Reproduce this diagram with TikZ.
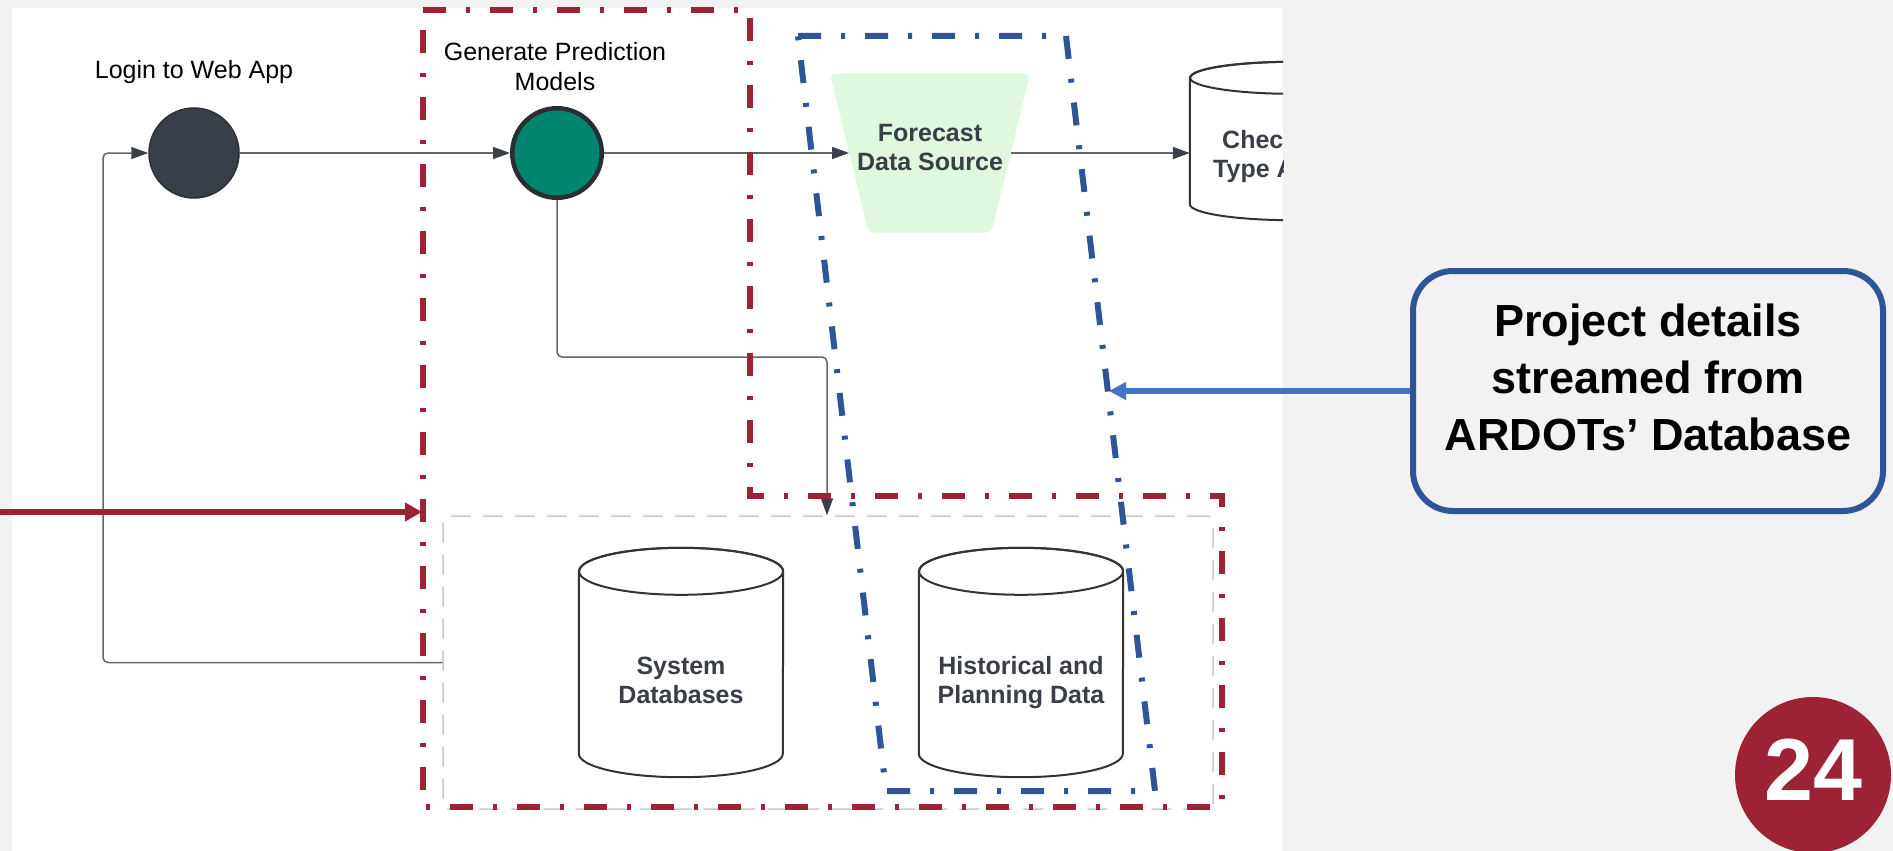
\documentclass[tikz,border=0pt]{standalone}
\usepackage{fontspec}
\setmainfont{Liberation Sans}
\usetikzlibrary{arrows.meta}

\definecolor{pagegrey}{HTML}{F2F2F2}
\definecolor{crimson}{HTML}{9E2236}
\definecolor{navyline}{HTML}{2E5597}
\definecolor{linkblue}{HTML}{4472C4}
\definecolor{slatefill}{HTML}{393F48}
\definecolor{slatering}{HTML}{2B3037}
\definecolor{tealfill}{HTML}{00866F}
\definecolor{ringdark}{HTML}{2A2E33}
\definecolor{mint}{HTML}{E0F7E0}
\definecolor{connector}{HTML}{62666D}
\definecolor{tipdark}{HTML}{3B4048}
\definecolor{textdark}{HTML}{3A3F47}
\definecolor{boxgrey}{HTML}{C9C9C9}
\definecolor{cylline}{HTML}{333333}

% database cylinder drawn on the frame of a named rectangle node
% #1 node name, #2 half-width, #3 vertical radius of the end ellipses
\newcommand\drawdbcyl[3]{%
  \draw[cylbody] ([yshift=-#3pt]#1.north west) -- ([yshift=#3pt]#1.south west)
    arc[start angle=180,end angle=360,x radius=#2pt,y radius=#3pt]
    -- ([yshift=-#3pt]#1.north east)
    arc[start angle=0,end angle=180,x radius=#2pt,y radius=#3pt] -- cycle;
  \draw[cylbody,fill=none] ([yshift=-#3pt]#1.north) ellipse[x radius=#2pt,y radius=#3pt];
}

\begin{document}
\begin{tikzpicture}[x=1pt,y=-1pt,
  conn/.style={draw=connector,line width=1.5pt,
    -{Triangle[length=17pt,width=12pt,color=tipdark]}},
  hdr/.style={font=\fontsize{25}{30}\selectfont,text=black,inner sep=0pt,align=center},
  dbtext/.style={font=\bfseries\fontsize{25}{29}\selectfont,text=textdark,inner sep=0pt,align=center},
  cylbody/.style={draw=cylline,line width=2pt,fill=white},
  cylframe/.style={minimum width=204pt,inner sep=0pt,draw=none},
  dashdot/.style={line width=6pt,dash pattern=on 23pt off 20pt on 4pt off 20pt},
  redframe/.style={dashdot,draw=crimson},
  blueframe/.style={dashdot,draw=navyline},
]
\useasboundingbox (0,0) rectangle (1893,851);

% page and canvas
\fill[pagegrey] (0,0) rectangle (1893,851);
\fill[white] (12,8) rectangle (1283,851);

% data store group
\node[draw=boxgrey,line width=1.5pt,dash pattern=on 20pt off 12pt,rounded corners=6pt,
      minimum width=770pt,minimum height=293pt,inner sep=0pt] (dbgroup) at (828,662.5) {};

% databases
\node[cylframe,minimum height=229pt] (sysdb) at (681,662.5) {};
\drawdbcyl{sysdb}{102}{23.5}
\node[dbtext] (systxt) at (681,680) {System\\Databases};

\node[cylframe,minimum height=229pt] (histdb) at (1021,662.5) {};
\drawdbcyl{histdb}{102}{23.5}
\node[dbtext] (histtxt) at (1021,682.5) {Historical and\\Planning Data};

\begin{scope}
  \clip (12,8) rectangle (1283,851);
  \node[cylframe,minimum height=158pt] (chk) at (1292,141) {};
  \drawdbcyl{chk}{102}{16}
  \node[dbtext,anchor=base west] (chkA) at (1222,148) {Chec};
  \node[dbtext,anchor=base west] (chkB) at (1213,177) {Type A};
\end{scope}

% process steps
\node[circle,fill=slatefill,draw=slatering,line width=1.5pt,minimum size=90pt,inner sep=0pt]
  (login) at (194,153) {};
\node[hdr,anchor=base] (loginlbl) at (194,78) {Login to Web App};

\node[circle,fill=tealfill,draw=ringdark,line width=4.5pt,minimum size=89.5pt,inner sep=0pt]
  (gen) at (557,153) {};
\node[hdr] (genlbl) at (555,67) {Generate Prediction\\Models};

% forecast source: inverted trapezoid, with its mid-height span as the node
\node[minimum width=161.4pt,minimum height=159pt,inner sep=0pt,draw=none] (fds) at (930,153) {};
\fill[mint,rounded corners=5pt] (830,73.5) -- (1030,73.5) -- (991.5,232.5) -- (868.5,232.5) -- cycle;
\node[dbtext] (fdstxt) at (930,147.5) {Forecast\\Data Source};

% connectors
\coordinate (genturn) at (827,357);
\coordinate (loopcorner) at (103,153);
\draw[conn] (login) -- (gen);
\draw[conn] (gen) -- (fds);
\draw[conn] (fds) -- (fds -| chk.west);
\draw[conn,rounded corners=5pt] (gen.south) |- (genturn) -- (genturn |- dbgroup.north);
\draw[conn,rounded corners=5pt] (dbgroup.west) -| (loopcorner) -- (login.west);

% highlight frames
\draw[redframe] (423,10) -- (750,10) -- (750,496) -- (1222,496) -- (1222,807) -- (423,807) -- cycle;
\draw[blueframe] (798,36) -- (1066,36) -- (1155,791) -- (886,791) -- cycle;

% incoming red pointer
\coordinate (redtail) at (0,512);
\coordinate (redtip) at (422,512);
\draw[draw=crimson,line width=6.5pt,-{Triangle[length=17pt,width=18pt]}] (redtail) -- (redtip);

% call-out
\node[draw=navyline,line width=6pt,rounded corners=40pt,minimum width=470pt,
      minimum height=240pt,inner sep=0pt] (note) at (1648,391) {};
\node[font=\bfseries\fontsize{45}{57}\selectfont,align=center,inner sep=0pt]
  (notetxt) at (1648,377) {Project details\\streamed from\\ARDOTs’ Database};
\coordinate (bluetip) at (1109,391);
\draw[draw=linkblue,line width=5.5pt,-{Triangle[length=17pt,width=17pt]}] (note.west) -- (bluetip);

% page number badge
\node[circle,fill=crimson,minimum size=156pt,inner sep=0pt] (badge) at (1813,775) {};
\node[anchor=base,text=white,font=\bfseries\fontsize{88}{90}\selectfont,inner sep=0pt]
  (badgenum) at (1813,800) {24};
\end{tikzpicture}
\end{document}
